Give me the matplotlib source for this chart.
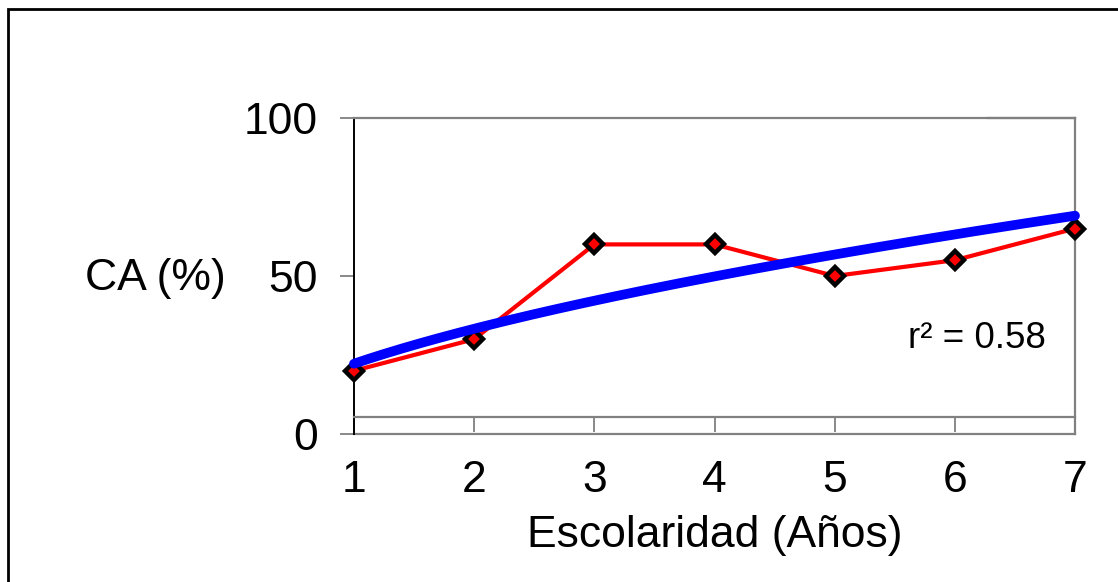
import matplotlib

matplotlib.use("Agg")
import matplotlib.pyplot as plt
import numpy as np
from matplotlib.patches import Rectangle

plt.rcParams["font.family"] = ["Liberation Sans", "DejaVu Sans"]

# data
escolaridad = [1, 2, 3, 4, 5, 6, 7]
ca_pct = [20, 30, 60, 60, 50, 55, 65]
y_ticks = [0, 50, 100]
r2_label = "r\u00b2 = 0.58"

# power trendline fitted to the points (as the spreadsheet did)
b, log_a = np.polyfit(np.log(escolaridad), np.log(ca_pct), 1)
x_fit = np.linspace(min(escolaridad), max(escolaridad), 200)
y_fit = np.exp(log_a) * x_fit ** b

W, H = 1118, 582
fig = plt.figure(figsize=(W / 100, H / 100), dpi=100)
ax = fig.add_axes([354 / W, 1 - 434 / H, (1075 - 354) / W, (434 - 118) / H])

gray = "#808080"
ax.plot(escolaridad, ca_pct, color="red", linewidth=3, marker="D", markersize=9,
        markerfacecolor="red", markeredgecolor="black", markeredgewidth=3.2,
        clip_on=False, zorder=3)
ax.plot(x_fit, y_fit, color="blue", linewidth=7, solid_capstyle="round",
        clip_on=False, zorder=4)

ax.set_xlim(1, 7)
ax.set_ylim(0, 100)
ax.set_xticks(escolaridad)
ax.set_yticks(y_ticks)

for side in ("top", "right", "bottom"):
    ax.spines[side].set_color(gray)
    ax.spines[side].set_linewidth(1.6)
ax.spines["left"].set_color("black")
ax.spines["left"].set_linewidth(1.4)
# category axis crosses a little above zero, plot-area border at zero
ax.spines["bottom"].set_position(("data", 5.4))
ax.axhline(0, color=gray, linewidth=1.6, clip_on=False, zorder=1)
ax.plot([0.88, 1], [1, 1], transform=ax.transAxes, color=gray, linewidth=1.6, clip_on=False)

ax.tick_params(axis="x", direction="out", length=11, width=1.3, color=gray,
               labelsize=32, pad=20)
ax.tick_params(axis="y", direction="out", length=10, width=1.3, color=gray,
               labelsize=32, pad=16)

ax.text(5.61, 27.2, r2_label, fontsize=26.5, ha="left", va="baseline")
fig.text(85 / W, 1 - 278 / H, "CA (%)", fontsize=32, ha="left", va="center")
fig.text(715 / W, 1 - 547 / H, "Escolaridad (Años)", fontsize=32, ha="center", va="baseline")

# outer chart frame (only left and top edges fall inside the image)
fig.add_artist(Rectangle((8 / W, -0.2), 1.5, 1 - 9 / H + 0.2, transform=fig.transFigure,
                         fill=False, edgecolor="black", linewidth=2.0))

fig.savefig("out.png", dpi=100)
